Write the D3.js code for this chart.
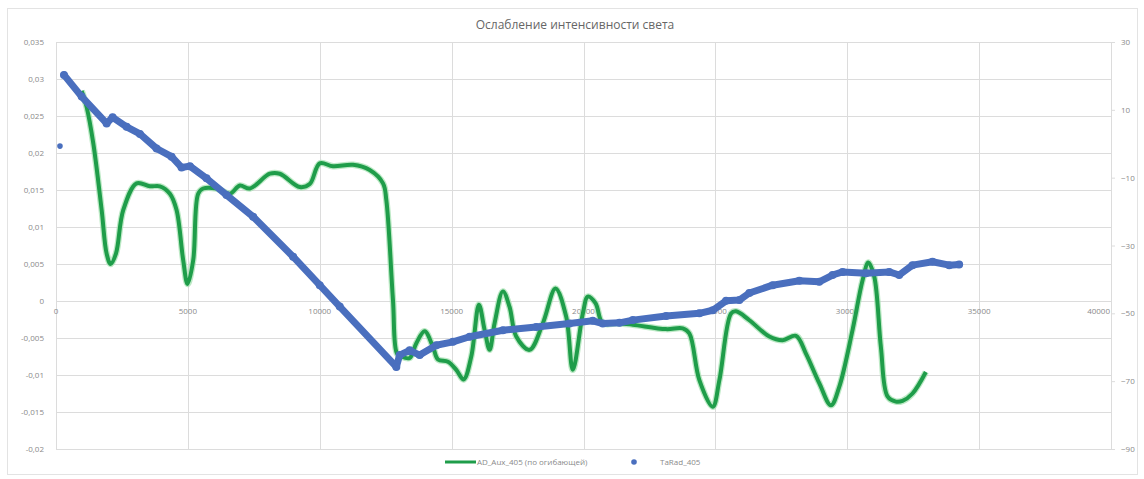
<!DOCTYPE html>
<html>
<head>
<meta charset="utf-8">
<script src="https://cdn.jsdelivr.net/npm/d3@7"></script>
<style>
  body { margin: 0; background: #fff; }
  text { font-family: "Open Sans", "DejaVu Sans", sans-serif; }
</style>
</head>
<body>
<div id="chart"></div>
<script>
// region Data
const chartTitle = 'Ослабление интенсивности света'
const greenName = 'AD_Aux_405 (по огибающей)'
const blueName = 'TaRad_405'

// AD_Aux_405, left axis
const greenX = [973, 1162, 1414, 1731, 1920, 2071, 2273, 2551, 3056, 3561, 3939, 4318, 4571, 4823, 4987,
    5202, 5391, 5580, 6086, 6591, 6970, 7348, 8106, 8485, 9242, 9620, 10000, 10505, 11263, 11894, 12399,
    12525, 12777, 12929, 13093, 13409, 13662, 13977, 14293, 14482, 14861, 15177, 15455, 15745, 16035,
    16250, 16439, 16629, 16944, 17197, 17450, 17955, 18460, 18939, 19343, 19596, 19975, 20164, 20455,
    20732, 21300, 21869, 23133, 23764, 24015, 24394, 24900, 25152, 25594, 25783, 26288, 27045, 27550,
    28056, 28434, 28939, 29381, 29697, 30202, 30581, 30800, 31023, 31275, 31528, 31843, 32096, 32475, 32980]
const greenY = [0.0284, 0.0262, 0.0213, 0.0123, 0.0064, 0.0050, 0.0064, 0.0123, 0.0159, 0.0155, 0.0155,
    0.0145, 0.0123, 0.0055, 0.0023, 0.0055, 0.0145, 0.0152, 0.0152, 0.0145, 0.0156, 0.0152, 0.0172, 0.0172,
    0.0154, 0.0158, 0.0186, 0.0182, 0.0184, 0.0177, 0.0159, 0.0136, 0.0001, -0.0071, -0.0075, -0.0077,
    -0.0057, -0.0041, -0.0062, -0.0079, -0.0082, -0.0093, -0.0106, -0.0075, -0.0005, -0.0039, -0.0066,
    -0.0030, 0.0013, -0.0008, -0.0048, -0.0066, -0.0030, 0.0017, -0.0021, -0.0093, -0.0017, 0.0006,
    -0.0003, -0.0030, -0.0030, -0.0032, -0.0038, -0.0037, -0.0044, -0.0107, -0.0143, -0.0107, -0.0017,
    -0.0014, -0.0026, -0.0048, -0.0053, -0.0047, -0.0071, -0.0111, -0.0141, -0.0116, -0.0039, 0.0028,
    0.0052, 0.0033, -0.0062, -0.0129, -0.0136, -0.0135, -0.0125, -0.0096]

// TaRad_405, right axis
const blueX = [150, 303, 973, 1920, 2147, 2677, 3182, 3813, 4381, 4760, 5076, 5707, 6465, 7475, 8990,
    10000, 10758, 12904, 13030, 13409, 13788, 14420, 15050, 15682, 16944, 18208, 19470, 20354, 20732,
    21364, 21869, 23133, 24394, 24900, 25405, 25909, 26288, 27172, 28182, 28939, 29444, 29823, 30708,
    31591, 31970, 32475, 33232, 33864, 34242]
const blueY = [-0.7, 20.3, 13.9, 6.0, 7.8, 5.0, 2.9, -1.4, -3.8, -7.0, -6.6, -10.2, -15.1, -21.5, -33.3,
    -41.7, -48.0, -65.8, -62.3, -60.9, -62.3, -59.4, -58.4, -56.9, -55.0, -54.0, -53.0, -52.2, -53.0,
    -52.8, -52.0, -50.8, -50.0, -49.1, -46.3, -46.1, -44.0, -41.7, -40.4, -40.7, -38.7, -37.8, -38.2,
    -37.8, -38.7, -35.8, -34.8, -35.8, -35.6]

const xTicks = [0, 5000, 10000, 15000, 20000, 25000, 30000, 35000, 40000]
const leftTicks = [0.035, 0.03, 0.025, 0.02, 0.015, 0.01, 0.005, 0, -0.005, -0.01, -0.015, -0.02]
const rightTicks = [30, 10, -10, -30, -50, -70, -90]
// endregion

// region Chart
let w = 1144,
    h = 479,
    pLeft = 56,
    pRight = 1111,
    pTop = 42,
    pBottom = 449,
    green = '#1f9d4a',
    blue = '#4a6fbe',
    grid = '#dcdcdc',
    label = '#8a8a8a'

let svg = d3.select('#chart')
    .append('svg')
    .attr('width', w)
    .attr('height', h)

// outer chart frame
svg.append('rect')
    .attr('x', 7.5).attr('y', 8.5)
    .attr('width', 1130).attr('height', 466)
    .attr('fill', 'none')
    .attr('stroke', '#e3e3e3')

const x = d3.scaleLinear().domain([0, 40000]).range([pLeft, pRight])
const yL = d3.scaleLinear().domain([-0.02, 0.035]).range([pBottom, pTop])
const yR = d3.scaleLinear().domain([-90, 30]).range([pBottom, pTop])

let fmt = v => String(+v.toFixed(3)).replace('.', ',')

// gridlines
svg.append('g')
    .selectAll('line')
    .data(leftTicks).enter()
    .append('line')
    .attr('x1', pLeft).attr('x2', pRight)
    .attr('y1', d => Math.round(yL(d)) + 0.5)
    .attr('y2', d => Math.round(yL(d)) + 0.5)
    .attr('stroke', grid)

svg.append('g')
    .selectAll('line')
    .data(xTicks).enter()
    .append('line')
    .attr('y1', pTop).attr('y2', pBottom)
    .attr('x1', d => Math.round(x(d)) + 0.5)
    .attr('x2', d => Math.round(x(d)) + 0.5)
    .attr('stroke', grid)

// left axis labels
svg.append('g')
    .selectAll('text')
    .data(leftTicks).enter()
    .append('text')
    .attr('x', 44)
    .attr('y', d => yL(d))
    .attr('dy', '0.35em')
    .attr('text-anchor', 'end')
    .attr('font-size', 8)
    .attr('fill', label)
    .text(fmt)

// right axis with small ticks
let rAxis = svg.append('g')
    .attr('transform', `translate(${pRight},0)`)
    .call(d3.axisRight(yR).tickValues(rightTicks).tickSize(4).tickPadding(6))
rAxis.select('.domain').remove()
rAxis.selectAll('line').attr('stroke', grid)
rAxis.selectAll('text')
    .attr('font-size', 8)
    .attr('fill', label)
    .style('font-family', '"Open Sans", "DejaVu Sans", sans-serif')

// x axis labels at the zero line (last one kept inside the plot)
svg.append('g')
    .selectAll('text')
    .data(xTicks).enter()
    .append('text')
    .attr('x', (d, i) => i === xTicks.length - 1 ? x(d) - 1 : x(d))
    .attr('y', yL(0) + 13)
    .attr('text-anchor', (d, i) => i === xTicks.length - 1 ? 'end' : 'middle')
    .attr('font-size', 8)
    .attr('fill', label)
    .text(d => d)

// green series
let gData = greenX.map((v, i) => [v, greenY[i]])
let gLine = d3.line()
    .x(d => x(d[0]))
    .y(d => yL(d[1]))
    .curve(d3.curveCatmullRom.alpha(0.5))

svg.append('path')
    .datum(gData)
    .attr('d', gLine)
    .attr('fill', 'none')
    .attr('stroke', '#9fe0ad')
    .attr('stroke-width', 6.5)
    .attr('stroke-linejoin', 'round')
    .attr('stroke-opacity', 0.7)
svg.append('path')
    .datum(gData)
    .attr('d', gLine)
    .attr('fill', 'none')
    .attr('stroke', green)
    .attr('stroke-width', 4)
    .attr('stroke-linejoin', 'round')

// blue series (dense markers)
let bData = blueX.map((v, i) => [v, blueY[i]])
let bLine = d3.line()
    .x(d => x(d[0]))
    .y(d => yR(d[1]))

svg.append('path')
    .datum(bData.slice(1))
    .attr('d', bLine)
    .attr('fill', 'none')
    .attr('stroke', blue)
    .attr('stroke-width', 7)
    .attr('stroke-linejoin', 'round')
    .attr('stroke-linecap', 'round')

svg.append('g')
    .selectAll('circle')
    .data(bData).enter()
    .append('circle')
    .attr('cx', d => x(d[0]))
    .attr('cy', d => yR(d[1]))
    .attr('r', (d, i) => i === 0 ? 2.8 : 4)
    .attr('fill', blue)

// title
svg.append('text')
    .attr('x', 575)
    .attr('y', 29)
    .attr('text-anchor', 'middle')
    .attr('font-size', 12)
    .attr('fill', '#666')
    .text(chartTitle)

// legend
let lg = svg.append('g').attr('transform', 'translate(0,462)')
lg.append('line')
    .attr('x1', 445).attr('x2', 476)
    .attr('stroke', green)
    .attr('stroke-width', 3)
lg.append('text')
    .attr('x', 477).attr('dy', '0.35em')
    .attr('font-size', 8)
    .attr('fill', label)
    .text(greenName)
lg.append('circle')
    .attr('cx', 634)
    .attr('r', 2.8)
    .attr('fill', blue)
lg.append('text')
    .attr('x', 660).attr('dy', '0.35em')
    .attr('font-size', 8)
    .attr('fill', label)
    .text(blueName)
// endregion
</script>
</body>
</html>
